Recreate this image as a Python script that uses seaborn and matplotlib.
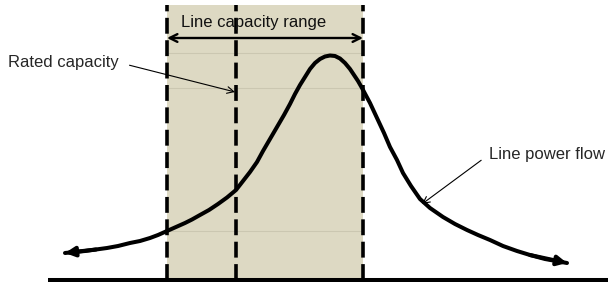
import matplotlib
matplotlib.use("Agg")
import matplotlib.pyplot as plt
import seaborn as sns
import pandas as pd

sns.set_style("white")
plt.rcParams['font.family'] = ['Liberation Sans', 'DejaVu Sans']

# Line power flow curve (x: operating point, y: flow level above baseline)
flow_x = [65, 75, 85, 96, 107, 118, 130, 140, 150, 158, 167, 176, 185, 192,
          200, 209, 218, 227, 236, 243, 250, 257, 263, 270, 277, 284, 290,
          295, 300, 305, 310, 315, 320, 325, 330, 335, 340, 345, 350, 354,
          358, 362, 370, 377, 384, 390, 397, 403, 411, 420, 430, 443, 455,
          467, 478, 490, 503, 517, 530, 545, 556, 567]
flow_y = [27, 28, 29, 30.5, 32, 34, 37, 39, 42, 45, 49, 53, 57, 60.5,
          65, 70, 76, 82.5, 90, 99, 108, 118, 129, 141, 153, 165, 176,
          186, 195, 203, 211, 217, 221, 223.5, 224.5, 224, 221.5, 217, 211, 205,
          199, 192, 177, 162, 147, 133, 120, 107, 94, 81, 72, 63, 56,
          50, 45, 40, 34, 29, 25, 21, 19, 17]

# Capacity range and rated capacity
range_left = 167
range_right = 363
rated_x = 236
range_top = 275
grid_levels = [227, 192, 49]
baseline_x = [48, 608]

labels = {"range": "Line capacity range",
          "rated": "Rated capacity",
          "flow": "Line power flow"}

fig = plt.figure(figsize=(6.08, 2.82), dpi=100)
ax = fig.add_axes([0, 0, 1, 1])
ax.set_xlim(0, 608)
ax.set_ylim(-2, 280)
ax.axis("off")

# shaded range
ax.fill_between([range_left, range_right], 0, range_top, color="#DDD9C3", lw=0, zorder=0)
for g in grid_levels:
    ax.plot([range_left, range_right], [g, g], color="#CBC7B1", lw=0.8, zorder=1)

# dashed vertical lines
for xv in [range_left, rated_x, range_right]:
    ax.plot([xv, xv], [0, range_top], color="black", lw=2.6,
            linestyle=(0, (4.4, 1.8)), zorder=2)

# baseline
ax.plot(baseline_x, [0, 0], color="black", lw=2.9, solid_capstyle="butt", zorder=3)

# curve
df = pd.DataFrame({"x": flow_x, "y": flow_y})
sns.lineplot(data=df, x="x", y="y", sort=False, estimator=None, color="black",
             lw=2.9, ax=ax, zorder=4, solid_joinstyle="round", solid_capstyle="round")
ax.annotate("", xy=(flow_x[0], flow_y[0]), xytext=(flow_x[3], flow_y[3]),
            arrowprops=dict(arrowstyle="-|>", color="black", lw=2.9,
                            mutation_scale=14, shrinkA=0, shrinkB=0), zorder=5)
ax.annotate("", xy=(flow_x[-1], flow_y[-1]), xytext=(flow_x[-4], flow_y[-4]),
            arrowprops=dict(arrowstyle="-|>", color="black", lw=2.9,
                            mutation_scale=14, shrinkA=0, shrinkB=0), zorder=5)

# capacity range double arrow
ax.annotate("", xy=(range_left, 242), xytext=(range_right, 242),
            arrowprops=dict(arrowstyle="<->", color="black", lw=1.7,
                            mutation_scale=14, shrinkA=0, shrinkB=0), zorder=5)
ax.text(254, 253, labels["range"], ha="center", va="baseline", fontsize=12, color="#111111")

# annotations
ax.annotate(labels["rated"], xy=(235, 188), xytext=(8, 213), fontsize=12,
            ha="left", va="baseline",
            arrowprops=dict(arrowstyle="->", color="black", lw=0.8,
                            mutation_scale=12, shrinkA=8, shrinkB=0,
                            relpos=(1.0, 0.5), patchA=None))
ax.annotate(labels["flow"], xy=(422, 76), xytext=(489, 121), fontsize=12,
            ha="left", va="baseline",
            arrowprops=dict(arrowstyle="->", color="black", lw=0.8,
                            mutation_scale=12, shrinkA=7, shrinkB=0,
                            relpos=(0.0, 0.5), patchA=None))

fig.savefig("out.png", dpi=100)
